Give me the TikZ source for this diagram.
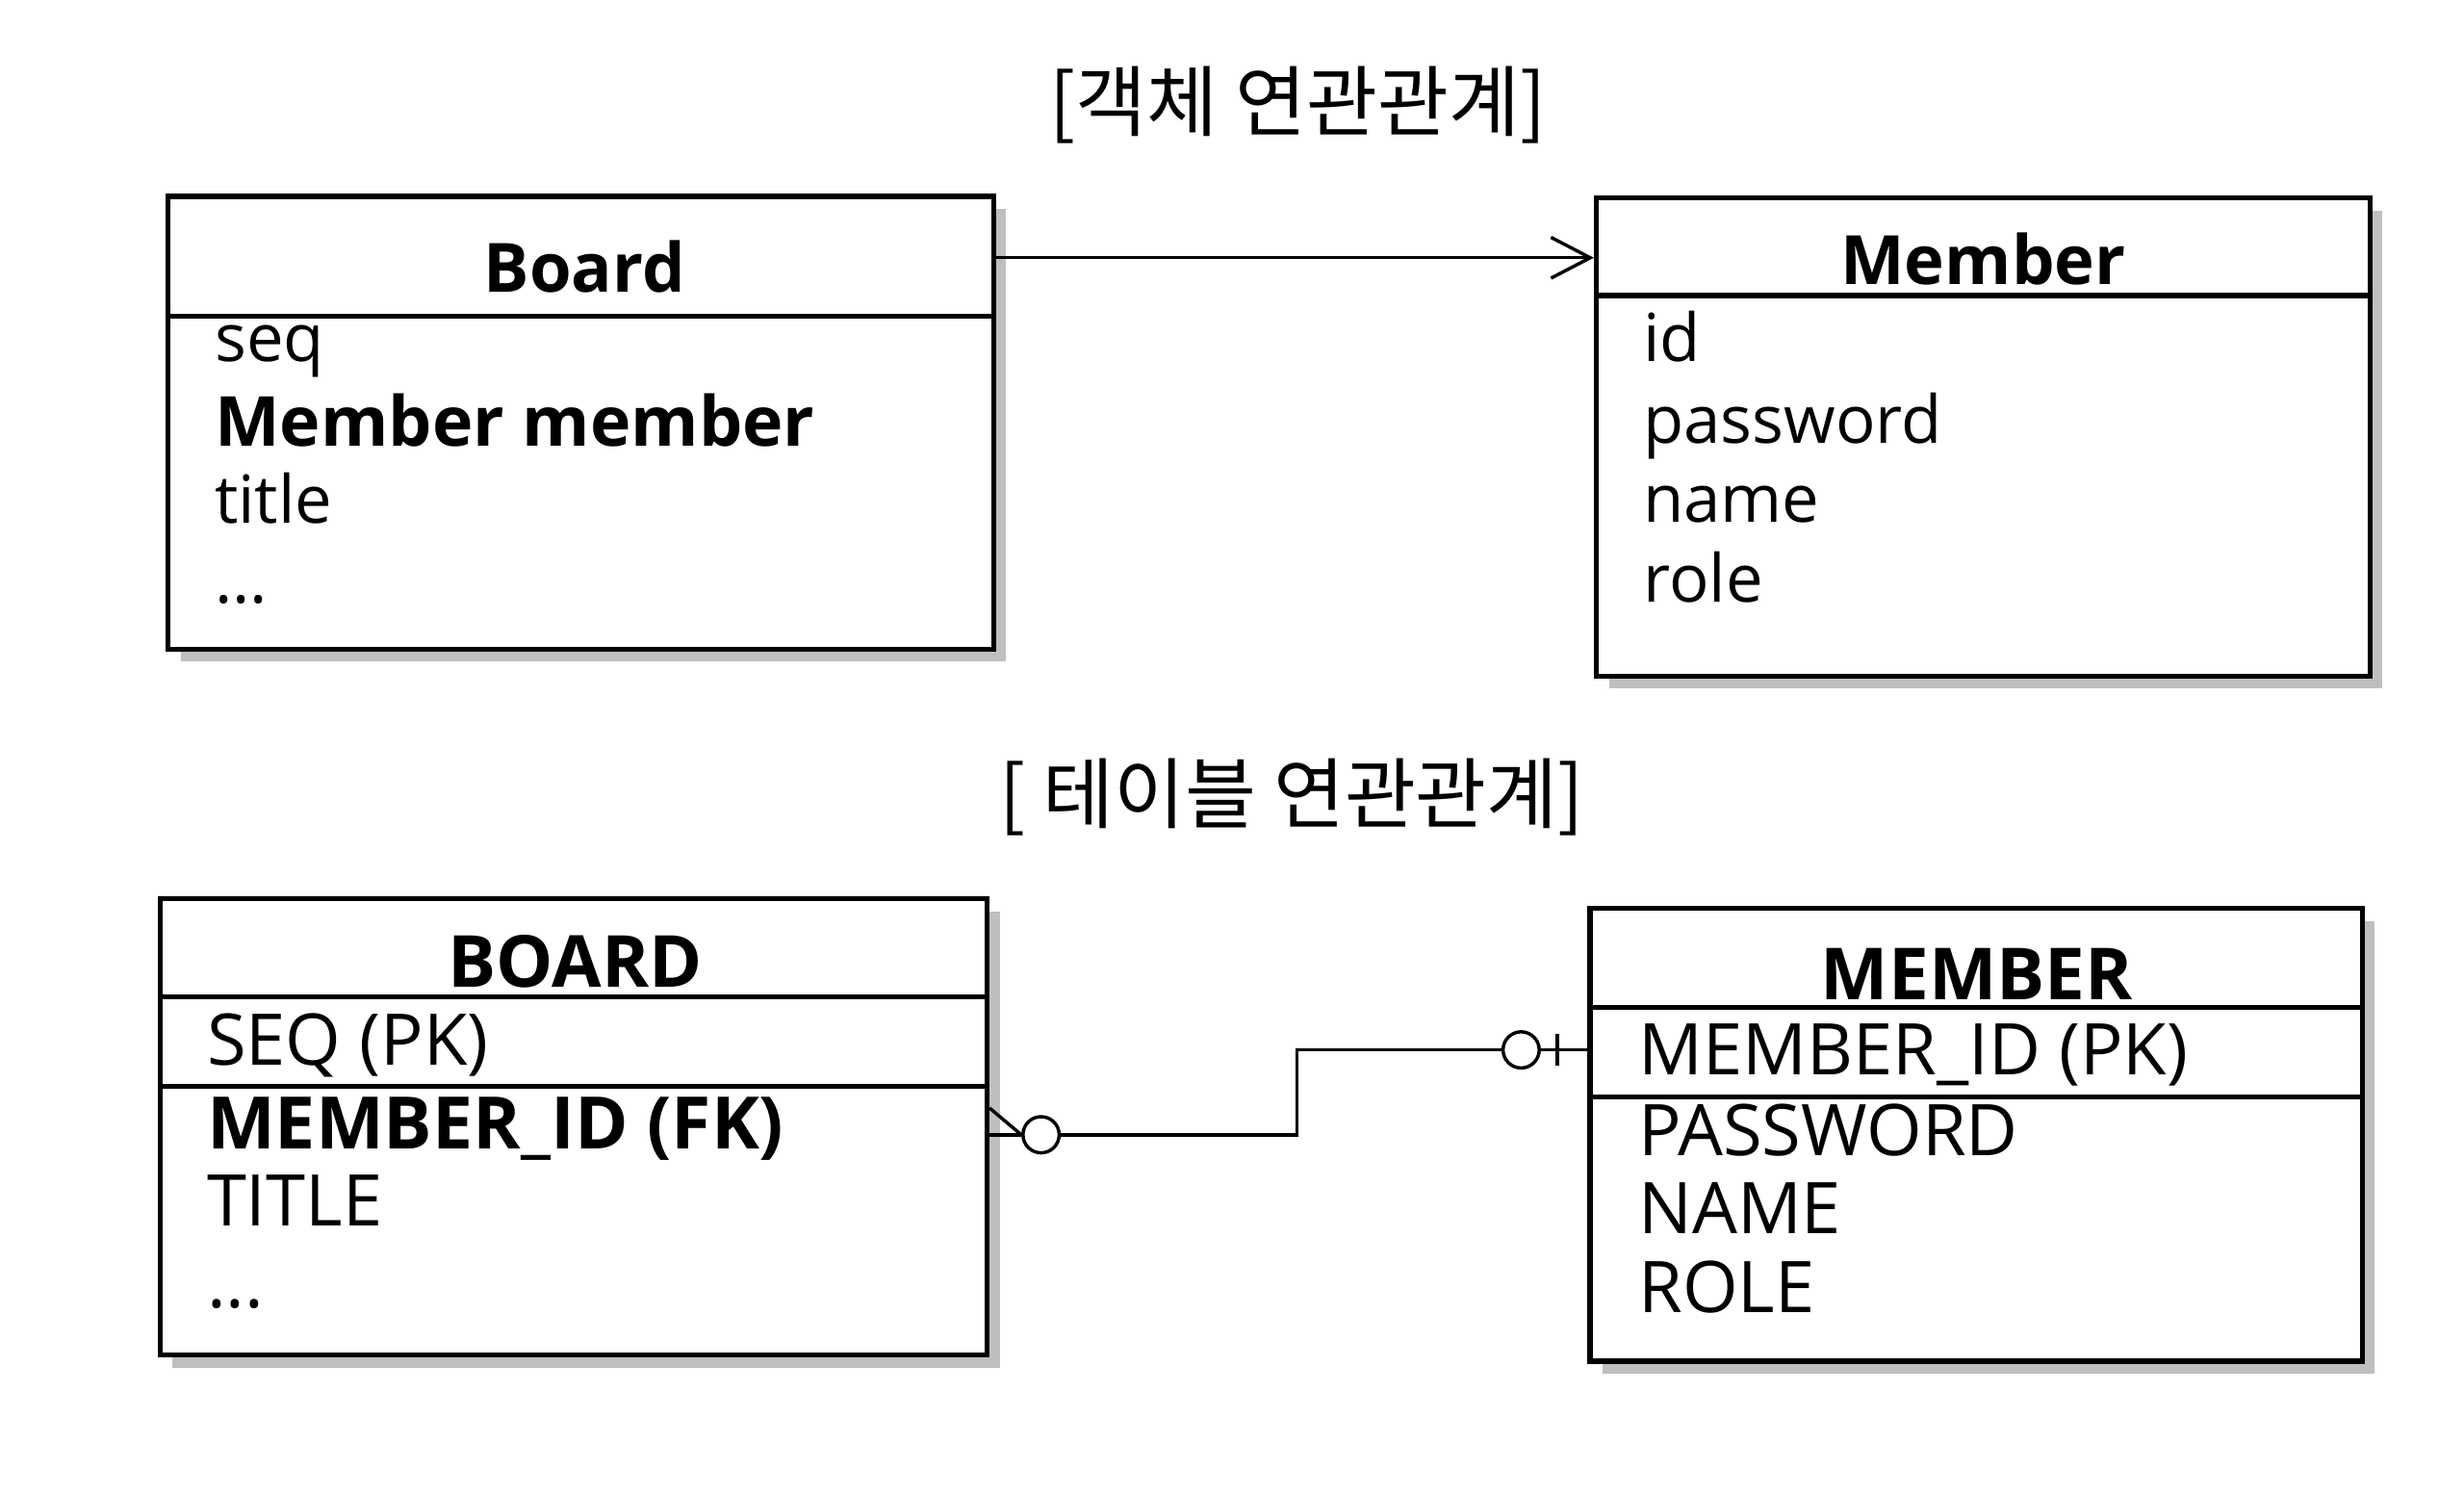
\documentclass[tikz,border=0pt]{standalone}
\usepackage{fontspec}
\setmainfont{Open Sans}
\newfontfamily\kr{Noto Sans CJK KR}
\usetikzlibrary{arrows.meta,shadows}

\tikzset{
    entity/.style={draw, line width=0.9pt, fill=white, inner sep=0pt,
        drop shadow={shadow xshift=0.08cm, shadow yshift=-0.08cm, opacity=0.5}},
    attr/.style={anchor=base west, inner sep=0pt, font=\fontsize{12}{14}\selectfont},
    tattr/.style={anchor=base west, inner sep=0pt, font=\fontsize{12.9}{15}\selectfont},
    head/.style={anchor=base, inner sep=0pt, font=\fontsize{12.3}{14}\selectfont\bfseries},
    thead/.style={anchor=base, inner sep=0pt, font=\fontsize{13}{15}\selectfont\bfseries},
    caption/.style={inner sep=0pt, font=\kr\fontsize{14}{16}\selectfont},
    link/.style={line width=0.6pt},
    ring/.style={circle, draw, line width=0.6pt, fill=white, inner sep=0pt, minimum size=0.23cm}
}

\begin{document}
\begin{tikzpicture}[x=0.01cm, y=-0.01cm]
    \useasboundingbox (0,0) rectangle (1568,951);

    % object association
    \node[caption] (objtitle) at (826,67) {[객체 연관관계]};

    \node[entity, minimum width=5.25cm, minimum height=2.88cm] (board) at (369.5,269) {};
    \node[head] (boardname) at (372,186) {Board};
    \draw[line width=0.9pt] (board.west |- 0,201) -- (board.east |- 0,201);
    \node[attr] (seq) at (136,230) {seq};
    \node[attr, font=\fontsize{12.5}{14}\selectfont\bfseries] (mref) at (136,284) {Member member};
    \node[attr] (title) at (136,333) {title};
    \node[attr] (bdots) at (136,384) {...};

    \node[entity, minimum width=4.92cm, minimum height=3.04cm] (member) at (1262,278) {};
    \node[head] (membername) at (1262,181) {Member};
    \draw[line width=0.9pt] (member.west |- 0,188) -- (member.east |- 0,188);
    \node[attr] (id) at (1045,230) {id};
    \node[attr] (password) at (1045,282) {password};
    \node[attr] (name) at (1045,332) {name};
    \node[attr] (role) at (1045,383) {role};

    \draw[link, -{Straight Barb[length=0.25cm, width=0.26cm]}]
        (board.east |- 0,164) -- (member.west |- 0,164);

    % table association
    \node[caption] (tabtitle) at (822,507) {[ 테이블 연관관계]};

    \node[entity, minimum width=5.26cm, minimum height=2.90cm] (tboard) at (365,717) {};
    \node[thead] (tboardname) at (366,628) {BOARD};
    \draw[line width=0.9pt] (tboard.west |- 0,634) -- (tboard.east |- 0,634);
    \node[tattr] (tseq) at (131,678) {SEQ (PK)};
    \draw[line width=0.9pt] (tboard.west |- 0,691) -- (tboard.east |- 0,691);
    \node[tattr, font=\fontsize{13.1}{15}\selectfont\bfseries] (tfk) at (131,731) {MEMBER\_ID (FK)};
    \node[tattr] (ttitle) at (131,780) {TITLE};
    \node[tattr] (tdots) at (131,832) {...};

    \node[entity, minimum width=4.91cm, minimum height=2.88cm] (tmember) at (1257.5,722) {};
    \node[thead] (tmembername) at (1258,636) {MEMBER};
    \draw[line width=0.9pt] (tmember.west |- 0,641) -- (tmember.east |- 0,641);
    \node[tattr] (tpk) at (1042,684) {MEMBER\_ID (PK)};
    \draw[line width=0.9pt] (tmember.west |- 0,698) -- (tmember.east |- 0,698);
    \node[tattr] (tpassword) at (1042,735) {PASSWORD};
    \node[tattr] (tname) at (1042,785) {NAME};
    \node[tattr] (trole) at (1042,835) {ROLE};

    \node[ring] (manyend) at (662.5,722) {};
    \node[ring] (oneend) at (968,668) {};
    \coordinate (bend) at (825.5,722);
    \coordinate (bar) at (991,668);

    \draw[link] (tboard.east |- 0,705) -- (manyend.west);
    \draw[link] (tboard.east |- manyend) -- (manyend.west);
    \draw[link] (manyend.east) -- (bend) |- (oneend.west);
    \draw[link] (oneend.east) -- (tmember.west |- oneend);
    \draw[link] ([yshift=0.1cm]bar) -- ([yshift=-0.1cm]bar);
\end{tikzpicture}
\end{document}
